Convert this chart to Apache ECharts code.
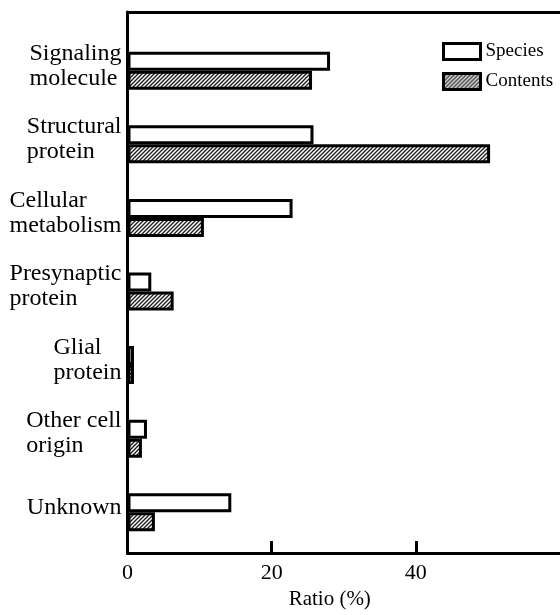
<!DOCTYPE html>
<html>
<head>
<meta charset="utf-8">
<script src="https://cdn.jsdelivr.net/npm/echarts@6/dist/echarts.min.js"></script>
<style>
html, body { margin: 0; padding: 0; background: #fff; }
#chart { width: 560px; height: 615px; }
</style>
</head>
<body>
<div id="chart"></div>
<script>
// ---- data ----
const categories = ['Signaling\nmolecule', 'Structural\nprotein', 'Cellular\nmetabolism', 'Presynaptic\nprotein', 'Glial\nprotein', 'Other cell\norigin', 'Unknown'];
const species = [28.1, 25.8, 22.9, 3.3, 0.9, 2.7, 14.4];
const contents = [25.6, 50.3, 10.6, 6.4, 0.9, 2.0, 3.8];
const seriesNames = ['Species', 'Contents'];
const xMin = 0, xMax = 60, xInterval = 20;
const axisName = 'Ratio (%)';

// ---- hatch pattern ----
function makeHatch() {
  const c = document.createElement('canvas');
  c.width = 4; c.height = 4;
  const ctx = c.getContext('2d');
  ctx.fillStyle = '#ffffff';
  ctx.fillRect(0, 0, 4, 4);
  ctx.strokeStyle = '#1a1a1a';
  ctx.lineWidth = 1.3;
  ctx.beginPath();
  ctx.moveTo(-1, 5); ctx.lineTo(5, -1);
  ctx.moveTo(-1, 1); ctx.lineTo(1, -1);
  ctx.moveTo(3, 5); ctx.lineTo(5, 3);
  ctx.stroke();
  return c;
}
const hatch = { image: makeHatch(), repeat: 'repeat' };

const serif = '"Liberation Serif", serif';
const chart = echarts.init(document.getElementById('chart'), null, { renderer: 'canvas' });

chart.setOption({
  backgroundColor: '#fff',
  animation: false,
  legend: {
    orient: 'vertical',
    left: 437,
    top: 37,
    itemWidth: 37,
    itemHeight: 16,
    itemGap: 11,
    icon: 'rect',
    itemStyle: { borderWidth: 3, borderColor: '#000' },
    textStyle: { fontFamily: serif, fontSize: 19, color: '#000' },
    data: seriesNames
  },
  grid: [
    { left: 127.5, top: 12, width: 438, height: 545, containLabel: false },
    { left: 127.5, top: 34, width: 438, height: 515, containLabel: false }
  ],
  xAxis: [
    {
      gridIndex: 0, type: 'value', position: 'bottom',
      min: xMin, max: xMax, interval: xInterval,
      axisLine: { show: true, onZero: false, lineStyle: { color: '#000', width: 3 } },
      axisTick: { show: true, inside: true, length: 12, lineStyle: { color: '#000', width: 3 } },
      axisLabel: { show: true, showMaxLabel: false, margin: 9, fontFamily: serif, fontSize: 22, color: '#000' },
      splitLine: { show: false },
      name: axisName, nameLocation: 'middle', nameGap: 30,
      nameTextStyle: { fontFamily: serif, fontSize: 21, color: '#000', padding: [0, 28, 0, 0] }
    },
    {
      gridIndex: 0, type: 'value', position: 'top',
      min: xMin, max: xMax, interval: xInterval,
      axisLine: { show: true, onZero: false, lineStyle: { color: '#000', width: 3 } },
      axisTick: { show: false }, axisLabel: { show: false }, splitLine: { show: false }
    },
    {
      gridIndex: 1, type: 'value', min: xMin, max: xMax, interval: xInterval, show: false,
      splitLine: { show: false }
    }
  ],
  yAxis: [
    {
      gridIndex: 0, type: 'value', min: 0, max: 1,
      axisLine: { show: true, onZero: false, lineStyle: { color: '#000', width: 3 } },
      axisTick: { show: false }, axisLabel: { show: false }, splitLine: { show: false }
    },
    {
      gridIndex: 1, type: 'category', inverse: true, data: categories,
      axisLine: { show: false }, axisTick: { show: false }, splitLine: { show: false },
      axisLabel: {
        show: true, margin: 6, padding: [0, 0, 10, 0],
        formatter: function (v) { return v.split('\n').map(function (s) { return '{a|' + s + '}'; }).join('\n'); },
        rich: { a: { fontFamily: serif, fontSize: 24, lineHeight: 25, color: '#000', align: 'left' } }
      }
    }
  ],
  series: [
    {
      name: seriesNames[0], type: 'bar', xAxisIndex: 2, yAxisIndex: 1,
      data: species, barWidth: 19, barGap: '0%',
      itemStyle: { color: '#ffffff', borderColor: '#000', borderWidth: 3 }
    },
    {
      name: seriesNames[1], type: 'bar', xAxisIndex: 2, yAxisIndex: 1,
      data: contents, barWidth: 19, barGap: '0%',
      itemStyle: { color: hatch, borderColor: '#000', borderWidth: 3 }
    }
  ]
});
</script>
</body>
</html>
